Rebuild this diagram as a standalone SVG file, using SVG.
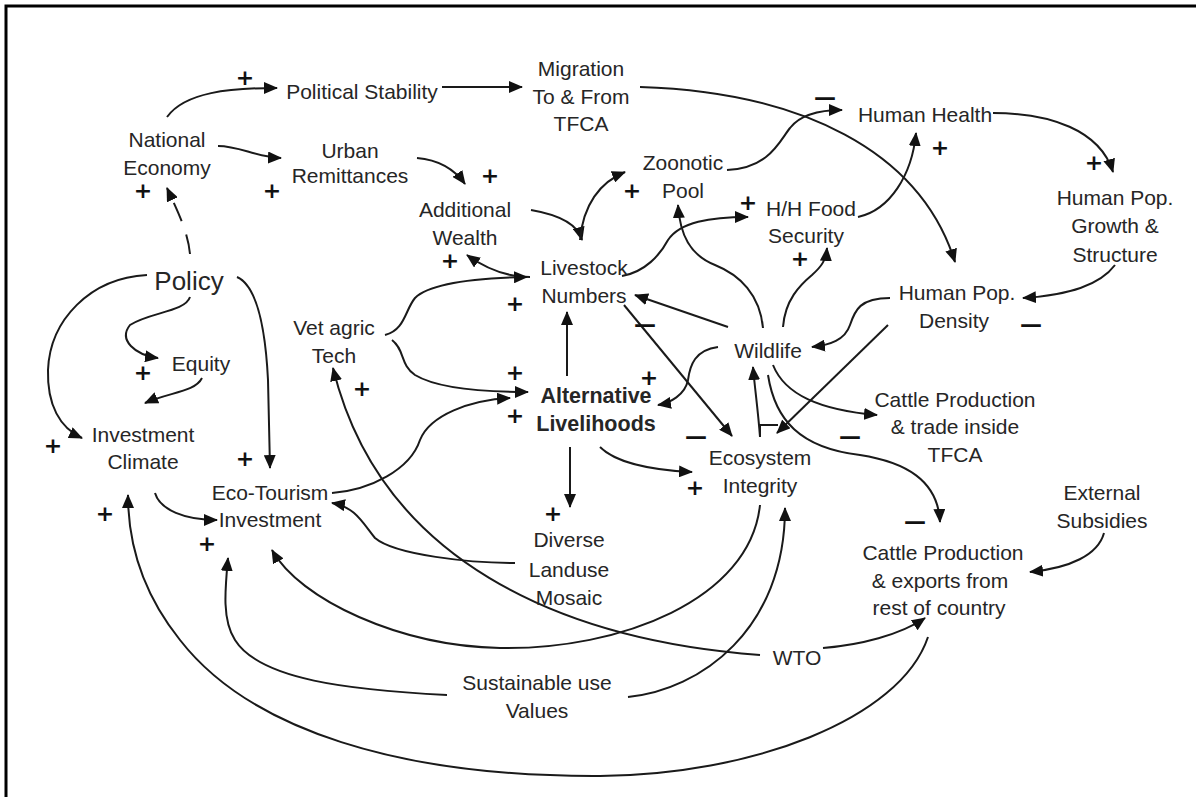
<svg xmlns="http://www.w3.org/2000/svg" width="1196" height="797" viewBox="0 0 1196 797">
<style>
.t{font-family:"Liberation Sans",Arial,sans-serif;font-size:21px;fill:#262626;text-anchor:middle}
.b{font-weight:bold;font-size:21.5px}
.p{font-size:26px}
.s{font-family:"DejaVu Sans",sans-serif;font-size:22px;font-weight:bold;fill:#111;text-anchor:middle}
.c path{fill:none;stroke:#1a1a1a;stroke-width:2}
</style>
<defs>
<marker id="a" markerUnits="userSpaceOnUse" markerWidth="14" markerHeight="12" refX="13" refY="6" orient="auto">
<path d="M0,0 L14,6 L0,12 z" fill="#111"/>
</marker>
</defs>
<rect width="1196" height="797" fill="#fff"/>
<path d="M6,797 L6,6 L1196,6" fill="none" stroke="#000" stroke-width="3"/>

<g class="c" id="connectors">
<path d="M167,117 C185,92 230,88 277,88" marker-end="url(#a)"/>
<path d="M442,87 L522,87" marker-end="url(#a)"/>
<path d="M218,146 C240,146 255,157 281,158" marker-end="url(#a)"/>
<path d="M417,158 C440,160 455,170 465,184" marker-end="url(#a)"/>
<path d="M531,210 C560,215 578,225 582,240" marker-end="url(#a)"/>
<path d="M530,277 C505,277 485,268 467,255" marker-end="url(#a)"/>
<path d="M580,240 C583,205 600,182 625,172" marker-end="url(#a)"/>
<path d="M727,170 C770,168 780,140 790,128 C800,115 820,110 842,110" marker-end="url(#a)"/>
<path d="M640,87 C800,92 920,150 955,262" marker-end="url(#a)"/>
<path d="M858,217 C890,210 912,175 916,133" marker-end="url(#a)"/>
<path d="M993,113 C1050,113 1100,130 1113,172" marker-end="url(#a)"/>
<path d="M1115,265 C1100,285 1070,295 1023,298" marker-end="url(#a)"/>
<path d="M622,276 C645,272 660,255 668,240 C680,222 710,217 748,217" marker-end="url(#a)"/>
<path d="M763,328 C760,295 740,275 715,265 C690,255 680,235 678,205" marker-end="url(#a)"/>
<path d="M783,327 C785,300 800,285 812,275 C822,266 826,260 827,248" marker-end="url(#a)"/>
<path d="M728,327 L635,295" marker-end="url(#a)"/>
<path d="M890,298 C860,298 855,310 850,325 C845,340 830,345 812,347" marker-end="url(#a)"/>
<path d="M888,325 L777,433" marker-end="url(#a)"/>
<path d="M624,305 L732,436" marker-end="url(#a)"/>
<path d="M718,347 C695,350 690,365 688,380 C685,395 670,403 658,405" marker-end="url(#a)"/>
<path d="M773,365 C785,395 820,410 877,415" marker-end="url(#a)"/>
<path d="M768,375 C775,420 800,448 860,455 C905,462 938,480 940,522" marker-end="url(#a)"/>
<path d="M760,437 C758,410 755,390 753,367" marker-end="url(#a)"/>
<path d="M760,437 L760,425 L778,425"/>
<path d="M567,376 L567,312" marker-end="url(#a)"/>
<path d="M570,447 L570,507" marker-end="url(#a)"/>
<path d="M600,447 C615,462 650,470 692,472" marker-end="url(#a)"/>
<path d="M385,335 C405,330 405,310 415,298 C430,283 480,278 527,277" marker-end="url(#a)"/>
<path d="M392,340 C405,350 400,365 415,375 C440,390 490,392 528,392" marker-end="url(#a)"/>
<path d="M332,493 C370,490 410,470 420,440 C430,415 470,400 510,398" marker-end="url(#a)"/>
<path d="M760,655 C560,640 380,560 333,368" marker-end="url(#a)"/>
<path d="M515,563 C470,563 395,555 375,538 C362,522 355,507 332,503" marker-end="url(#a)"/>
<path d="M760,505 C750,600 620,650 500,648 C400,646 300,600 272,550" marker-end="url(#a)"/>
<path d="M628,697 C700,690 785,630 785,508" marker-end="url(#a)"/>
<path d="M447,695 C350,690 260,680 235,640 C222,620 225,590 228,558" marker-end="url(#a)"/>
<path d="M928,637 C900,720 750,775 600,776 C400,777 250,730 180,640 C140,590 128,540 128,495" marker-end="url(#a)"/>
<path d="M823,648 C860,645 900,635 925,618" marker-end="url(#a)"/>
<path d="M1104,533 C1098,555 1070,568 1030,572" marker-end="url(#a)"/>
<path d="M155,493 C160,510 185,520 217,520" marker-end="url(#a)"/>
<path d="M147,275 C90,278 50,320 48,370 C47,405 60,428 82,438" marker-end="url(#a)"/>
<path d="M190,297 C185,312 150,312 130,325 C118,340 135,355 158,358" marker-end="url(#a)"/>
<path d="M202,378 C195,392 170,392 145,403" marker-end="url(#a)"/>
<path d="M237,277 C255,285 265,320 268,380 L270,468" marker-end="url(#a)"/>
<path d="M190,254 C188,232 178,212 167,188" stroke-width="4" stroke-dasharray="20 14" marker-end="url(#a)"/>
</g>

<g id="political-stability"><text class="t" x="362" y="99">Political Stability</text></g>
<g id="migration"><text class="t" x="581" y="76">Migration</text><text class="t" x="581" y="104">To &amp; From</text><text class="t" x="581" y="131">TFCA</text></g>
<g id="national-economy"><text class="t" x="167" y="147">National</text><text class="t" x="167" y="175">Economy</text></g>
<g id="urban-remittances"><text class="t" x="350" y="158">Urban</text><text class="t" x="350" y="183">Remittances</text></g>
<g id="additional-wealth"><text class="t" x="465" y="217">Additional</text><text class="t" x="465" y="245">Wealth</text></g>
<g id="zoonotic-pool"><text class="t" x="683" y="170">Zoonotic</text><text class="t" x="683" y="198">Pool</text></g>
<g id="human-health"><text class="t" x="925" y="122">Human Health</text></g>
<g id="hh-food-security"><text class="t" x="811" y="216">H/H Food</text><text class="t" x="806" y="243">Security</text></g>
<g id="human-pop-growth"><text class="t" x="1115" y="205">Human Pop.</text><text class="t" x="1115" y="233">Growth &amp;</text><text class="t" x="1115" y="262">Structure</text></g>
<g id="policy"><text class="t p" x="189" y="290">Policy</text></g>
<g id="equity"><text class="t" x="201" y="371">Equity</text></g>
<g id="investment-climate"><text class="t" x="143" y="442">Investment</text><text class="t" x="143" y="469">Climate</text></g>
<g id="eco-tourism"><text class="t" x="270" y="500">Eco-Tourism</text><text class="t" x="270" y="527">Investment</text></g>
<g id="vet-agric-tech"><text class="t" x="334" y="335">Vet agric</text><text class="t" x="334" y="363">Tech</text></g>
<g id="livestock-numbers"><text class="t" x="584" y="275">Livestock</text><text class="t" x="584" y="303">Numbers</text></g>
<g id="alternative-livelihoods"><text class="t b" x="596" y="403">Alternative</text><text class="t b" x="596" y="431">Livelihoods</text></g>
<g id="wildlife"><text class="t" x="768" y="358">Wildlife</text></g>
<g id="human-pop-density"><text class="t" x="957" y="300">Human Pop.</text><text class="t" x="954" y="328">Density</text></g>
<g id="cattle-trade"><text class="t" x="955" y="407">Cattle Production</text><text class="t" x="955" y="434">&amp; trade inside</text><text class="t" x="955" y="462">TFCA</text></g>
<g id="ecosystem-integrity"><text class="t" x="760" y="465">Ecosystem</text><text class="t" x="760" y="493">Integrity</text></g>
<g id="external-subsidies"><text class="t" x="1102" y="500">External</text><text class="t" x="1102" y="528">Subsidies</text></g>
<g id="cattle-exports"><text class="t" x="943" y="560">Cattle Production</text><text class="t" x="940" y="588">&amp; exports from</text><text class="t" x="939" y="615">rest of country</text></g>
<g id="diverse-landuse"><text class="t" x="569" y="547">Diverse</text><text class="t" x="569" y="577">Landuse</text><text class="t" x="569" y="605">Mosaic</text></g>
<g id="sustainable-use"><text class="t" x="537" y="690">Sustainable use</text><text class="t" x="537" y="718">Values</text></g>
<g id="wto"><text class="t" x="797" y="665">WTO</text></g>

<g id="signs">
<text class="s" x="245" y="85">+</text>
<text class="s" x="143" y="198">+</text>
<text class="s" x="272" y="198">+</text>
<text class="s" x="490" y="183">+</text>
<text class="s" x="450" y="268">+</text>
<text class="s" x="632" y="198">+</text>
<text class="s" x="748" y="210">+</text>
<text class="s" x="940" y="155">+</text>
<text class="s" x="1094" y="170">+</text>
<text class="s" x="800" y="266">+</text>
<text class="s" x="515" y="311">+</text>
<text class="s" x="143" y="380">+</text>
<text class="s" x="362" y="396">+</text>
<text class="s" x="515" y="380">+</text>
<text class="s" x="515" y="423">+</text>
<text class="s" x="649" y="385">+</text>
<text class="s" x="53" y="453">+</text>
<text class="s" x="245" y="466">+</text>
<text class="s" x="695" y="495">+</text>
<text class="s" x="105" y="521">+</text>
<text class="s" x="207" y="551">+</text>
<text class="s" x="553" y="521">+</text>
<text class="s" x="825" y="105">—</text>
<text class="s" x="645" y="332">—</text>
<text class="s" x="1031" y="332">—</text>
<text class="s" x="696" y="444">—</text>
<text class="s" x="850" y="444">—</text>
<text class="s" x="915" y="529">—</text>
</g>
</svg>
